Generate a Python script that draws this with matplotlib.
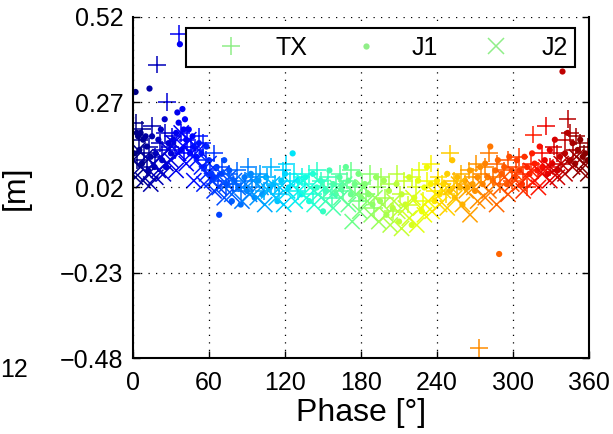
import matplotlib
matplotlib.use("Agg")
from matplotlib import pyplot as plt
from matplotlib.lines import Line2D

plt.rcParams['font.family'] = ['Liberation Sans', 'DejaVu Sans']

# TX  (+)
tx_phase = [0, 2, 3, 5, 7, 9, 11, 13, 15, 17, 19, 21, 23, 25, 27, 29, 31, 33, 36, 38,
            40, 43, 46, 49, 52, 55, 58, 61, 64, 67, 70, 73, 76, 79, 82, 85, 88, 91, 94, 97,
            100, 103, 106, 109, 112, 115, 118, 121, 124, 127, 130, 133, 136, 139, 142, 145,
            148, 151, 154, 157, 160, 163, 166, 169, 172, 175, 178, 181, 184, 187, 190, 193,
            196, 199, 202, 205, 208, 211, 214, 217, 220, 223, 226, 229, 232, 235, 238, 241,
            244, 247, 250, 253, 256, 259, 262, 265, 268, 271, 273, 275, 278, 281, 284, 287,
            290, 293, 296, 299, 302, 305, 308, 311, 314, 316, 320, 323, 326, 329, 332, 335,
            338, 341, 343, 345, 347, 350, 353, 356, 359]
tx_val = [0.12, 0.21, 0.10, 0.16, 0.19, 0.12, 0.08, 0.14, 0.20, 0.11, 0.38, 0.15, 0.13, 0.18, 0.27, 0.14, 0.17, 0.13, 0.47, 0.18,
          0.12, 0.16, 0.14, 0.13, 0.17, 0.15, 0.10, 0.07, 0.12, 0.04, 0.08, 0.02, 0.06, 0.03, 0.07, 0.01, 0.04, 0.08, 0.02, 0.05,
          0.06, 0.01, 0.05, 0.08, 0.03, 0.00, 0.07, 0.09, 0.04, 0.06, 0.01, 0.05, 0.03, 0.06, 0.00, 0.07,
          0.04, 0.02, 0.05, -0.01, 0.03, 0.06, 0.01, 0.04, 0.07, 0.02, -0.02, 0.03, 0.00, 0.06, -0.04, 0.02,
          0.05, -0.01, 0.03, -0.05, 0.06, 0.00, 0.04, -0.03, 0.05, 0.02, 0.07, -0.02, 0.04, 0.09, 0.01, 0.05,
          0.03, 0.00, 0.12, 0.04, 0.02, 0.06, 0.03, 0.07, 0.05, 0.09, -0.45, 0.06, 0.08, 0.12, 0.05, 0.09,
          0.03, 0.07, 0.10, 0.04, 0.08, 0.11, 0.06, 0.02, 0.09, 0.175, 0.07, 0.12, 0.20, 0.08, 0.14, 0.12,
          0.09, 0.16, 0.22, 0.18, 0.13, 0.17, 0.15, 0.12, 0.14]

# J1  (.)
j1_phase = [1, 2, 3, 4, 5, 6, 7, 8, 10, 11, 12, 13, 14, 15, 17, 18, 20, 22, 23, 25, 26, 28, 30, 32,
            34, 35, 36, 37, 38, 39, 40, 41, 42, 44, 45, 47, 48, 50, 52, 54, 56, 58, 60, 62, 64, 66,
            68, 70, 72, 74, 76, 78, 80, 83, 85, 88, 90, 93, 96, 99, 102, 105, 108, 111, 114, 117,
            120, 123, 126, 130, 133, 136, 139, 142, 145, 148, 150, 152, 155, 158, 160, 163, 165,
            168, 170, 172, 175, 178, 180, 183, 186, 189, 192, 195, 198, 200, 202, 205, 208, 210,
            212, 215, 218, 220, 222, 225, 228, 230, 232, 235, 238, 240, 242, 245, 248, 250, 252,
            254, 256, 258, 260, 262, 264, 266, 268, 270, 272, 274, 276, 278, 280, 282, 284, 286,
            288, 289, 291, 293, 295, 297, 299, 301, 303, 305, 307, 309, 311, 313, 315, 317, 319,
            321, 323, 325, 327, 329, 331, 333, 335, 337, 339, 341, 343, 345, 347, 349, 351, 353,
            355, 357, 359]
j1_val = [0.12, 0.30, 0.18, 0.17, 0.13, 0.18, 0.09, 0.16, 0.17, 0.14, 0.07, 0.31, 0.11, 0.17, 0.08, 0.12, 0.16, 0.19, 0.10, 0.22, 0.08, 0.15, 0.12, 0.16,
          0.18, 0.24, 0.21, 0.44, 0.13, 0.25, 0.19, 0.22, 0.16, 0.19, 0.12, 0.17, 0.14, 0.11, 0.15, 0.12, 0.08, 0.14, 0.10, 0.06, 0.05, 0.08,
          -0.06, 0.06, 0.10, 0.03, 0.07, -0.02, 0.04, 0.02, -0.03, 0.05, 0.01, 0.06, -0.01, 0.04, 0.00, 0.05, 0.02, 0.03, -0.02, 0.04,
          0.06, 0.02, 0.12, 0.04, 0.00, 0.05, -0.02, 0.06, 0.02, 0.04, -0.05, 0.01, 0.07, 0.03, 0.00, 0.05, 0.02,
          0.08, 0.04, 0.00, 0.03, 0.06, -0.01, 0.03, 0.00, -0.03, 0.05, -0.02, 0.04, -0.06, 0.01, -0.04, 0.03, -0.08,
          0.00, -0.03, 0.05, -0.09, -0.01, 0.04, -0.05, 0.02, 0.08, 0.03, -0.02, 0.04, 0.00, 0.03, 0.06, 0.01, 0.10,
          -0.01, 0.05, 0.02, -0.03, 0.04, 0.02, 0.07, 0.03, 0.01, 0.05, 0.08, 0.03, 0.09, 0.05, 0.14, 0.04, 0.07,
          0.10, -0.175, 0.06, 0.08, 0.03, 0.11, 0.07, 0.05, 0.10, 0.07, 0.03, 0.11, 0.08, 0.06, 0.12, 0.09, 0.07,
          0.14, 0.08, 0.10, 0.06, 0.13, 0.09, 0.16, 0.07, 0.11, 0.36, 0.12, 0.18, 0.10, 0.15, 0.09, 0.13, 0.16,
          0.11, 0.12, 0.10]

# J2  (x)
j2_phase = [0, 2, 4, 6, 8, 10, 12, 14, 16, 18, 20, 22, 24, 26, 28, 30, 32, 34, 36, 38, 40, 42, 44,
            46, 48, 50, 52, 54, 56, 58, 60, 62, 64, 66, 68, 70, 72, 74, 76, 78, 80, 83, 86, 89, 92,
            95, 98, 101, 104, 107, 110, 113, 116, 119, 122, 125, 128, 131, 134, 137, 140, 143, 146,
            149, 152, 155, 158, 161, 164, 167, 170, 173, 176, 179, 182, 185, 188, 191, 194, 197,
            200, 203, 206, 209, 212, 215, 218, 221, 224, 227, 230, 233, 236, 239, 242, 245, 248,
            251, 254, 257, 260, 263, 266, 269, 272, 275, 278, 281, 284, 287, 290, 293, 296, 299,
            302, 305, 308, 311, 314, 317, 320, 323, 326, 329, 332, 335, 338, 341, 344, 347, 350,
            353, 356, 359]
j2_val = [0.10, 0.05, 0.13, 0.08, 0.04, 0.11, 0.06, 0.03, 0.09, 0.05, 0.07, 0.11, 0.06, 0.09, 0.13, 0.10, 0.15, 0.07, 0.12, 0.18, 0.14, 0.09, 0.16,
          0.12, 0.04, 0.10, 0.13, 0.08, 0.03, 0.06, 0.09, 0.04, 0.01, 0.05, 0.02, 0.06, -0.01, 0.03, 0.05, 0.00, 0.04, 0.02, -0.02, 0.03, 0.00,
          0.04, -0.01, 0.02, -0.03, 0.01, 0.03, -0.01, 0.02, -0.03, 0.01, 0.03, -0.02, 0.01, 0.04, -0.01, 0.02, -0.03, 0.00,
          0.03, -0.02, 0.01, -0.04, 0.02, -0.01, 0.03, -0.03, -0.08, 0.00, -0.05, 0.02, -0.02, -0.06, -0.01, -0.08, -0.03,
          -0.06, -0.09, -0.02, -0.05, -0.10, -0.04, -0.07, -0.01, -0.09, -0.04, -0.06, -0.02, -0.05, 0.00, -0.03, 0.01, -0.04,
          0.02, -0.01, 0.03, -0.03, 0.01, -0.06, 0.02, -0.02, 0.03, -0.01, 0.01, 0.04, -0.03, 0.02, 0.05, 0.00, 0.03,
          0.06, 0.03, 0.01, 0.05, 0.07, 0.04, 0.02, 0.06, 0.08, 0.04, 0.07, 0.05, 0.09, 0.06, 0.10, 0.08, 0.11,
          0.07, 0.09, 0.06]

x_ticks = [0, 60, 120, 180, 240, 300, 360]
y_ticks = [-0.48, -0.23, 0.02, 0.27, 0.52]
y_labels = ['\u22120.48', '\u22120.23', '0.02', '0.27', '0.52']

cmap = plt.get_cmap('jet')
norm = plt.Normalize(0, 360)

fig = plt.figure(figsize=(6.13, 4.34), dpi=100)
ax = fig.add_axes([0.217, 0.175, 0.744, 0.786])

ax.scatter(tx_phase, tx_val, c=tx_phase, cmap=cmap, norm=norm, marker='+', s=160, linewidths=1.1)
ax.scatter(j1_phase, j1_val, c=j1_phase, cmap=cmap, norm=norm, marker='o', s=20, linewidths=0)
ax.scatter(j2_phase, j2_val, c=j2_phase, cmap=cmap, norm=norm, marker='x', s=120, linewidths=1.1)

ax.set_xlim(0, 360)
ax.set_ylim(-0.48, 0.52)
ax.set_xticks(x_ticks)
ax.set_yticks(y_ticks)
ax.set_yticklabels(y_labels)
ax.tick_params(direction='in', labelsize=18, length=5, width=1, right=True)
ax.tick_params(axis='y', pad=7)
ax.tick_params(axis='x', pad=9)
ax.grid(True, color='black', linestyle=(0, (1, 5)), linewidth=0.9)
ax.spines['top'].set_visible(False)
for s in ['left', 'right', 'bottom']:
    ax.spines[s].set_linewidth(1.5)

ax.set_xlabel('Phase [\u00b0]', fontsize=23)
ax.xaxis.set_label_coords(0.5, -0.118)
ax.set_ylabel('[m]', fontsize=23)
ax.yaxis.set_label_coords(-0.225, 0.5)

# legend symbols are drawn in one light green
lg_col = '#90ee88'
handles = [Line2D([], [], linestyle='none', marker='+', color=lg_col, markersize=13, markeredgewidth=1.1),
           Line2D([], [], linestyle='none', marker='o', color=lg_col, markersize=4.5, markeredgewidth=0),
           Line2D([], [], linestyle='none', marker='x', color=lg_col, markersize=11, markeredgewidth=1.1)]
leg = ax.legend(handles, ['TX', 'J1', 'J2'], ncol=3, loc='lower left', mode='expand',
                bbox_to_anchor=(0.116, 0.853, 0.853, 0.109), fontsize=18, handlelength=3,
                handletextpad=0.3, columnspacing=0.6, borderpad=0.3, borderaxespad=0,
                fancybox=False, framealpha=1, edgecolor='black')
leg.get_frame().set_linewidth(1.5)

fig.text(0.0, 1 - 370 / 434, '12', fontsize=18, ha='left', va='center')

fig.savefig('out.png', dpi=100)
